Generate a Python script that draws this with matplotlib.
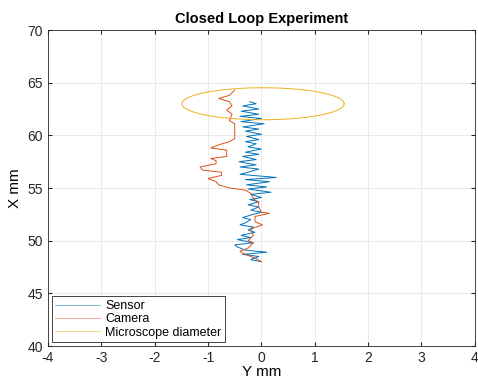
import numpy as np
import matplotlib
matplotlib.use("Agg")
import matplotlib.pyplot as plt

plt.rcParams["font.family"] = ["Liberation Sans", "DejaVu Sans"]
plt.rcParams["axes.unicode_minus"] = False

# ── data (mm) ────────────────────────────────────────────────────────────────
sensor_y = [48.0, 48.2, 48.5, 48.7, 48.9, 49.1, 49.4, 49.6, 49.8, 50.1, 50.3,
            50.5, 50.8, 51.0, 51.3, 51.5, 51.7, 52.0, 52.2, 52.5, 52.7, 52.9,
            53.2, 53.4, 53.7, 53.9, 54.1, 54.4, 54.6, 54.9, 55.1, 55.3, 55.6,
            55.8, 56.0, 56.3, 56.5, 56.8, 57.0, 57.2, 57.5, 57.7, 58.0, 58.2,
            58.4, 58.7, 58.9, 59.2, 59.4, 59.6, 59.9, 60.1, 60.4, 60.6, 60.8,
            61.1, 61.3, 61.6, 61.8, 62.0, 62.3, 62.5, 62.8, 63.0, 63.2]
sensor_x = [0.0, -0.2, -0.05, -0.35, 0.1, -0.3, -0.45, -0.5, -0.15, -0.45, -0.2,
            -0.38, -0.12, -0.25, -0.15, -0.4, -0.3, -0.2, -0.35, -0.15, 0.0, -0.2,
            -0.05, -0.25, -0.05, -0.22, 0.0, -0.2, 0.18, -0.25, 0.1, -0.28, 0.15,
            -0.3, 0.28, -0.4, -0.25, -0.05, -0.4, -0.1, -0.42, -0.1, -0.35, -0.05,
            -0.3, 0.0, -0.25, -0.1, -0.3, -0.05, -0.28, 0.0, -0.3, -0.05, -0.35,
            0.05, -0.38, 0.0, -0.4, -0.05, -0.38, -0.05, -0.35, -0.1, -0.22]

camera_x = [0.0, -0.1, -0.2, -0.35, -0.4, -0.25, -0.15, -0.25, -0.15, -0.2,
            -0.15, 0.02, -0.12, -0.12, 0.15, 0.0, -0.05, -0.05, -0.15, -0.2,
            -0.3, -0.6, -0.8, -0.85, -1.0, -0.75, -0.75, -1.1, -1.15, -0.85,
            -0.85, -0.95, -0.65, -0.65, -0.95, -0.8, -0.6, -0.5, -0.5, -0.6,
            -0.55, -0.65, -0.55, -0.6, -0.8, -0.6, -0.5]
camera_y = [48.0, 48.3, 48.5, 48.8, 49.0, 49.3, 49.8, 50.0, 50.5, 51.0,
            51.2, 51.5, 51.8, 52.3, 52.6, 52.7, 53.2, 53.6, 54.0, 54.5,
            54.8, 55.0, 55.3, 55.6, 55.9, 56.2, 56.5, 56.7, 57.0, 57.3,
            57.6, 57.8, 58.0, 58.6, 58.8, 59.1, 59.4, 59.7, 61.1, 61.4,
            62.0, 62.4, 62.8, 63.2, 63.5, 63.8, 64.3]

scope_center = (0.03, 63.0)
scope_radius = 1.52

# ── plot ─────────────────────────────────────────────────────────────────────
fig = plt.figure(figsize=(4.78, 3.83), dpi=100)
ax = fig.add_axes([0.1004, 0.0966, 0.893, 0.825])

ax.plot(sensor_x, sensor_y, color="#0072BD", lw=0.7, label="Sensor")
ax.plot(camera_x, camera_y, color="#D95319", lw=0.7, label="Camera")
t = np.linspace(0, 2 * np.pi, 300)
ax.plot(scope_center[0] + scope_radius * np.cos(t),
        scope_center[1] + scope_radius * np.sin(t),
        color="#EDB120", lw=0.7, label="Microscope diameter")

ax.set_xlim(-4, 4)
ax.set_ylim(40, 70)
ax.set_xticks(range(-4, 5))
ax.set_yticks(range(40, 71, 5))
ax.grid(True, color="#e6e6e6", lw=0.6)
ax.set_axisbelow(True)
ax.tick_params(direction="in", length=3, labelsize=10, color="#262626",
               labelcolor="#262626", top=True, right=True, labeltop=False,
               labelright=False)
for s in ax.spines.values():
    s.set_color("#262626")
    s.set_linewidth(0.6)

ax.set_title("Closed Loop Experiment", fontsize=10.5, fontweight="bold", pad=5)
ax.set_xlabel("Y mm", fontsize=11, labelpad=0)
ax.set_ylabel("X mm", fontsize=11, labelpad=4)

leg = ax.legend(loc="lower left", fontsize=9, frameon=True, fancybox=False,
                borderaxespad=0.3, handlelength=3.6, handletextpad=0.4,
                labelspacing=0.1, borderpad=0.3)
leg.get_frame().set_edgecolor("#262626")
leg.get_frame().set_linewidth(0.6)
leg.get_frame().set_alpha(1)
for h in leg.get_lines():
    h.set_alpha(0.5)

plt.savefig("out.png", dpi=100)
